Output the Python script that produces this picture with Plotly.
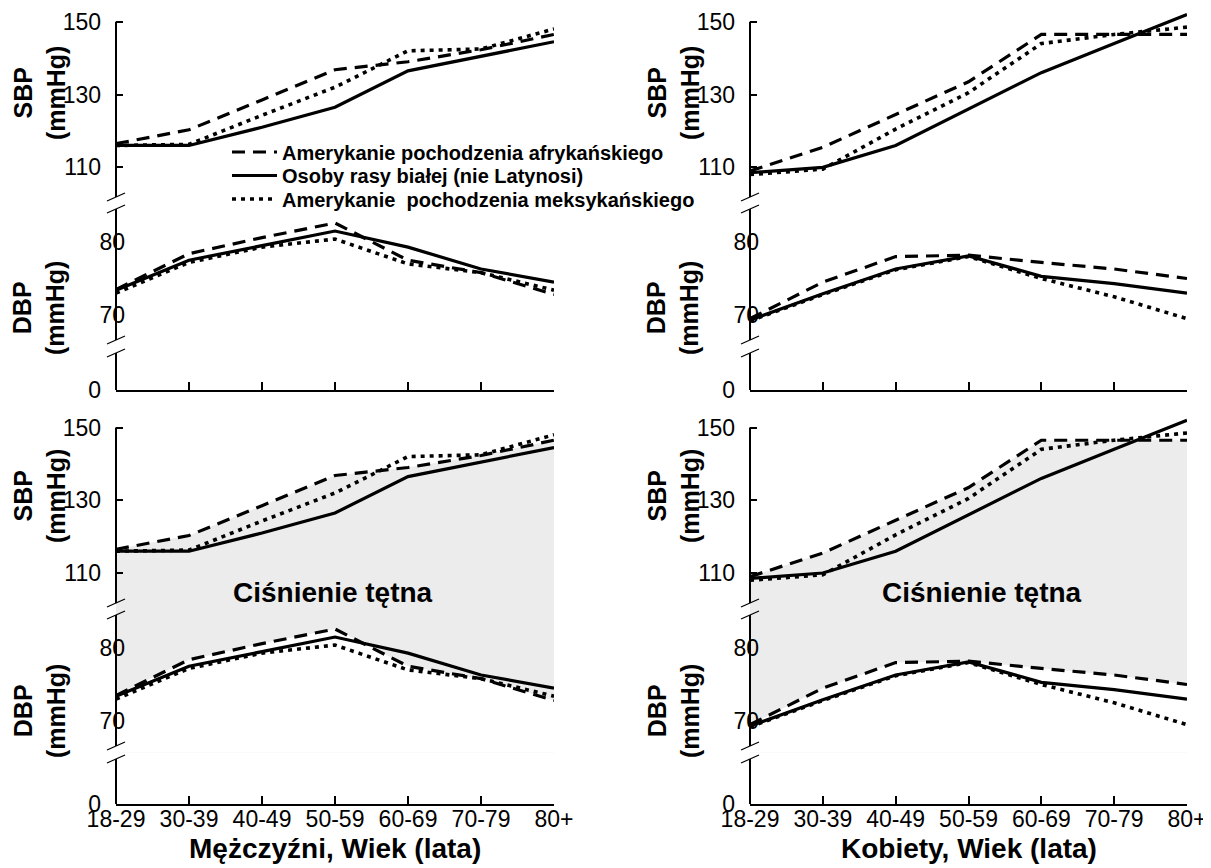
import plotly.graph_objects as go

# ---------------- data ----------------
ages = ["18-29", "30-39", "40-49", "50-59", "60-69", "70-79", "80+"]
group_names = ["Amerykanie pochodzenia afrykańskiego",
               "Osoby rasy białej (nie Latynosi)",
               "Amerykanie  pochodzenia meksykańskiego"]

men_sbp_aa = [116.5, 120.3, 128.5, 136.8, 139.0, 142.3, 146.5]
men_sbp_white = [116.0, 116.0, 121.0, 126.5, 136.5, 140.5, 144.5]
men_sbp_mex = [116.0, 116.3, 124.3, 132.0, 142.0, 142.5, 148.0]
men_dbp_aa = [73.5, 78.4, 80.6, 82.6, 77.5, 75.8, 72.8]
men_dbp_white = [73.4, 77.5, 79.5, 81.5, 79.3, 76.3, 74.5]
men_dbp_mex = [73.0, 77.2, 79.3, 80.4, 77.0, 75.8, 73.4]

women_sbp_aa = [109.0, 115.5, 124.5, 133.5, 146.5, 146.5, 146.5]
women_sbp_white = [108.5, 110.0, 116.0, 126.0, 136.0, 144.0, 152.0]
women_sbp_mex = [108.0, 109.5, 120.5, 130.5, 144.0, 146.5, 148.5]
women_dbp_aa = [69.5, 74.5, 78.0, 78.2, 77.2, 76.3, 75.0]
women_dbp_white = [69.3, 72.9, 76.3, 78.1, 75.3, 74.3, 73.0]
women_dbp_mex = [69.2, 72.8, 76.2, 78.0, 75.0, 72.5, 69.5]

sbp_ticks = [110, 130, 150]
dbp_ticks = [70, 80]
zero_ticks = [0]

x_titles = {"men": "Mężczyźni, Wiek (lata)", "women": "Kobiety, Wiek (lata)"}
pp_label = "Ciśnienie tętna"

# ---------------- style / layout ----------------
W, H = 1211, 868
OFF = 8  # page body margin
FONT = "Liberation Sans, Arial, Helvetica, sans-serif"
GREY = "#ebeceb"
TICK_FS = 23
LW = 3.2
dashes = ["13px,8px", "solid", "4px,5px"]
widths = [LW, LW, 3.6]

rows = {
    "top": dict(dom_top=8, s150=21.7, s110=167.3, d80=242, d70=315,
                b1=(197, 209), b2=(340, 353), base=390),
    "bot": dict(dom_top=410, s150=427.5, s110=573, d80=648, d70=721,
                b1=(603, 615), b2=(746, 759), base=804),
}
cols = {"men": (116, 554), "women": (750, 1187)}

data = {
    "men": ([men_sbp_aa, men_sbp_white, men_sbp_mex], [men_dbp_aa, men_dbp_white, men_dbp_mex]),
    "women": ([women_sbp_aa, women_sbp_white, women_sbp_mex], [women_dbp_aa, women_dbp_white, women_dbp_mex]),
}

panels = [("top", "men"), ("top", "women"), ("bot", "men"), ("bot", "women")]


def X(px):
    return min(1.0, max(0.0, (px - OFF) / W))


def Y(py):
    return min(1.0, max(0.0, 1 - (py - OFF) / H))


fig = go.Figure()
layout = dict(
    width=W, height=H,
    margin=dict(l=0, r=0, t=0, b=0, autoexpand=False),
    paper_bgcolor="white", plot_bgcolor="white",
    font=dict(family=FONT, color="black", size=TICK_FS),
    showlegend=True,
)
shapes = []
annotations = []
legend_ids = ["legend", "legend2", "legend3"]
legend_rows = [152, 175.5, 199]

for i, (row, col) in enumerate(panels, start=1):
    r = rows[row]
    x0px, x1px = cols[col]
    xn = "x" if i == 1 else f"x{i}"
    ys = [f"y{3 * (i - 1) + k}" if (3 * (i - 1) + k) > 1 else "y" for k in (1, 2, 3)]
    ysbp, ydbp, yzero = ys
    mid1 = sum(r["b1"]) / 2
    mid2 = sum(r["b2"]) / 2
    ppu_s = (r["s110"] - r["s150"]) / 40.0
    ppu_d = (r["d70"] - r["d80"]) / 10.0

    def sval(py):
        return 150 - (py - r["s150"]) / ppu_s

    def dval(py):
        return 80 - (py - r["d80"]) / ppu_d

    xkey = "xaxis" if i == 1 else f"xaxis{i}"
    layout[xkey] = dict(domain=[X(x0px), X(x1px)], anchor=yzero, type="category",
                        categoryorder="array", categoryarray=ages, range=[0, 6],
                        showline=True, linecolor="black", linewidth=2,
                        ticks="inside", ticklen=8, tickwidth=1.5, tickcolor="black",
                        showgrid=False, zeroline=False,
                        showticklabels=(row == "bot"), tickfont=dict(size=TICK_FS),
                        ticklabelstandoff=-7)

    def ykey(name):
        return "yaxis" if name == "y" else "yaxis" + name[1:]

    layout[ykey(ysbp)] = dict(domain=[Y(mid1), Y(r["dom_top"])], anchor=xn,
                              range=[sval(mid1), sval(r["dom_top"])],
                              tickmode="array", tickvals=sbp_ticks,
                              ticks="inside", ticklen=7, tickwidth=1.5, tickcolor="black",
                              showline=False, showgrid=False, zeroline=False,
                              tickfont=dict(size=TICK_FS), ticklabelstandoff=14)
    layout[ykey(ydbp)] = dict(domain=[Y(mid2), Y(mid1)], anchor=xn,
                              range=[dval(mid2), dval(mid1)],
                              tickmode="array", tickvals=dbp_ticks,
                              ticks="", showline=False, showgrid=False, zeroline=False,
                              tickfont=dict(size=TICK_FS), ticklabelstandoff=-10)
    layout[ykey(yzero)] = dict(domain=[Y(r["base"]), Y(mid2)], anchor=xn,
                               range=[0, 10], tickmode="array", tickvals=zero_ticks,
                               ticks="", showline=False, showgrid=False, zeroline=False,
                               tickfont=dict(size=TICK_FS), ticklabelstandoff=14)

    sbp_list, dbp_list = data[col]
    if row == "bot":
        # pulse pressure band: from African-American DBP up to African-American SBP
        fig.add_trace(go.Scatter(x=ages, y=sbp_list[0], xaxis=xn, yaxis=ysbp, mode="lines",
                                 line=dict(width=0), fill="tozeroy", fillcolor=GREY,
                                 showlegend=False, hoverinfo="skip"))
        shapes.append(dict(type="rect", xref=f"{xn} domain", yref=f"{ydbp} domain",
                           x0=0, x1=1, y0=0, y1=1, fillcolor=GREY, line=dict(width=0),
                           layer="below"))
        fig.add_trace(go.Scatter(x=ages, y=dbp_list[0], xaxis=xn, yaxis=ydbp, mode="lines",
                                 line=dict(width=0), fill="tozeroy", fillcolor="white",
                                 showlegend=False, hoverinfo="skip"))
        annotations.append(dict(text=pp_label, xref="paper", yref="paper",
                                x=X(333 if col == "men" else 982), y=Y(592),
                                xanchor="center", yanchor="middle", showarrow=False,
                                font=dict(size=28, weight="bold")))
        annotations.append(dict(text=x_titles[col], xref="paper", yref="paper",
                                x=X((x0px + x1px) / 2), y=Y(848),
                                xanchor="center", yanchor="middle", showarrow=False,
                                font=dict(size=28, weight="bold")))

    for g in range(3):
        tr = dict(x=ages, y=sbp_list[g], xaxis=xn, yaxis=ysbp, mode="lines",
                  line=dict(color="black", width=widths[g], dash=dashes[g]),
                  name=group_names[g], showlegend=(i == 1))
        if i == 1:
            tr["legend"] = legend_ids[g]
        fig.add_trace(go.Scatter(**tr))
    for g in range(3):
        fig.add_trace(go.Scatter(x=ages, y=dbp_list[g], xaxis=xn, yaxis=ydbp, mode="lines",
                                 line=dict(color="black", width=widths[g], dash=dashes[g]),
                                 name=group_names[g], showlegend=False))
    fig.add_trace(go.Scatter(x=[], y=[], xaxis=xn, yaxis=yzero, showlegend=False))

    # broken y-axis segments
    for (pa, pb) in [(r["s150"], r["b1"][0]), (r["b1"][1], r["b2"][0]), (r["b2"][1], r["base"])]:
        shapes.append(dict(type="line", xref=f"{xn} domain", yref="paper",
                           x0=0, x1=0, y0=Y(pa), y1=Y(pb),
                           line=dict(color="black", width=2)))
    for pyb in [r["b1"][0], r["b1"][1], r["b2"][0], r["b2"][1]]:
        shapes.append(dict(type="line", xref="paper", yref="paper",
                           x0=X(x0px - 9), x1=X(x0px + 9),
                           y0=Y(pyb + 4), y1=Y(pyb - 4),
                           line=dict(color="black", width=1.2)))

    # y titles
    xoff = 0 if col == "men" else 634
    yoff = 0 if row == "top" else 403
    for txt, yc in (("SBP<br>(mmHg)", 93), ("DBP<br>(mmHg)", 308)):
        annotations.append(dict(text=txt, xref="paper", yref="paper",
                                x=X(39 + xoff), y=Y(yc + yoff), xanchor="center", yanchor="middle",
                                textangle=-90, showarrow=False, align="center",
                                font=dict(size=25, weight="bold")))

layout["shapes"] = shapes
layout["annotations"] = annotations
for lid, ry in zip(legend_ids, legend_rows):
    layout[lid] = dict(x=X(227), y=Y(ry), xanchor="left", yanchor="middle",
                       bgcolor="rgba(0,0,0,0)", font=dict(size=20, weight="bold"),
                       itemwidth=45, tracegroupgap=0)
fig.update_layout(**layout)
fig.write_html("out.html")
